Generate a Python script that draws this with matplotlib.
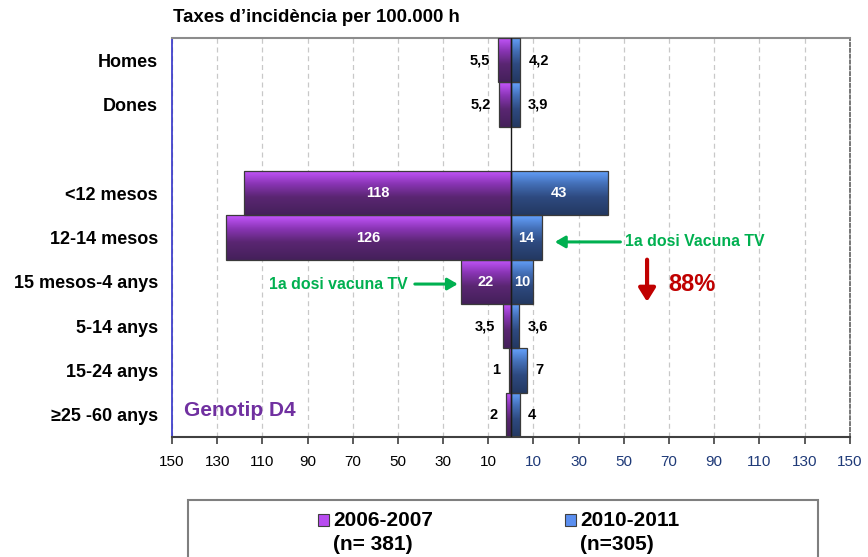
import numpy as np
import matplotlib
matplotlib.use("Agg")
import matplotlib.pyplot as plt
from matplotlib.colors import LinearSegmentedColormap
from matplotlib.patches import Rectangle

plt.rcParams['font.family'] = ['Liberation Sans', 'DejaVu Sans']

# ---------------- data ----------------
categories = ["Homes", "Dones", "", "<12 mesos", "12-14 mesos", "15 mesos-4 anys",
              "5-14 anys", "15-24 anys", "\u226525 -60 anys"]
rates_2006_2007 = [5.5, 5.2, np.nan, 118, 126, 22, 3.5, 1, 2]
rates_2010_2011 = [4.2, 3.9, np.nan, 43, 14, 10, 3.6, 7, 4]
series_names = ["2006-2007", "2010-2011"]
series_n = ["(n= 381)", "(n=305)"]
tick_values = [-150, -130, -110, -90, -70, -50, -30, -10, 10, 30, 50, 70, 90, 110, 130, 150]
title = "Taxes d\u2019incid\u00e8ncia per 100.000 h"
genotype = "Genotip D4"
vaccine_note_right = "1a dosi Vacuna TV"
vaccine_note_left = "1a dosi vacuna TV"
reduction = "88%"

purple_cmap = LinearSegmentedColormap.from_list(
    "pur", [(0, "#C657FF"), (0.3, "#8A35B5"), (0.6, "#5A2672"), (1, "#44205A")])
blue_cmap = LinearSegmentedColormap.from_list(
    "blu", [(0, "#66A3FF"), (0.3, "#4470B8"), (0.6, "#2E4A80"), (1, "#233861")])

fig = plt.figure(figsize=(8.68, 5.57), dpi=100)
ax = fig.add_axes([172 / 868, 1 - 437 / 557, (849.7 - 172) / 868, (437 - 38) / 557])

y = np.arange(len(categories))
left_vals = -np.array(rates_2006_2007, dtype=float)
right_vals = np.array(rates_2010_2011, dtype=float)

grad = np.linspace(0, 1, 256).reshape(-1, 1)


def gradient_bars(bars, cmap):
    for rect in bars:
        w = rect.get_width()
        if not np.isfinite(w) or w == 0:
            continue
        x0 = rect.get_x()
        y0 = rect.get_y()
        h = rect.get_height()
        im = ax.imshow(grad, extent=(min(x0, x0 + w), max(x0, x0 + w), y0 + h, y0),
                       origin="upper", aspect="auto", cmap=cmap, zorder=2,
                       interpolation="bilinear")
        im.set_clip_path(rect)


bars_l = ax.barh(y, left_vals, height=1.0, facecolor="none", edgecolor="#3A3A3A",
                 linewidth=0.9, zorder=3)
bars_r = ax.barh(y, right_vals, height=1.0, facecolor="none", edgecolor="#3A3A3A",
                 linewidth=0.9, zorder=3)
gradient_bars(bars_l, purple_cmap)
gradient_bars(bars_r, blue_cmap)

ax.set_xlim(-150, 150)
ax.set_ylim(len(categories) - 0.5, -0.5)

# grid & center line
for t in tick_values:
    ax.axvline(t, color="#C8C8C8", lw=0.9, ls=(0, (4, 3)), zorder=1)
ax.axvline(0, color="#1A1A1A", lw=1.0, zorder=4)


def fmt(v):
    return f"{v:g}".replace(".", ",")


# value labels
for yi, v in zip(y, rates_2006_2007):
    if not np.isfinite(v):
        continue
    if v >= 10:
        ax.text(-v / 2, yi, fmt(v), ha="center", va="center", color="white",
                fontsize=10.5, fontweight="bold", zorder=5)
    else:
        ax.annotate(fmt(v), (-v, yi), xytext=(-6, 0), textcoords="offset points",
                    ha="right", va="center", fontsize=10.5, fontweight="bold", zorder=5)
for yi, v in zip(y, rates_2010_2011):
    if not np.isfinite(v):
        continue
    if v >= 10:
        ax.text(v / 2, yi, fmt(v), ha="center", va="center", color="white",
                fontsize=10.5, fontweight="bold", zorder=5)
    else:
        ax.annotate(fmt(v), (v, yi), xytext=(6, 0), textcoords="offset points",
                    ha="left", va="center", fontsize=10.5, fontweight="bold", zorder=5)

# ticks
ax.set_xticks(tick_values)
ax.set_xticklabels([str(abs(t)) for t in tick_values], fontsize=11)
for t, lab in zip(tick_values, ax.get_xticklabels()):
    lab.set_color("black" if t < 0 else "#1F3A78")
ax.tick_params(axis="x", direction="out", length=5, width=1.2, color="#404040", pad=8)
ax.set_yticks(y)
ax.set_yticklabels(categories, fontsize=13, fontweight="bold")
ax.tick_params(axis="y", length=0, pad=10)

# spines
ax.spines["left"].set_color("#3232C8")
ax.spines["left"].set_linewidth(1.2)
ax.spines["top"].set_color("#8C8C8C")
ax.spines["top"].set_linewidth(1.5)
ax.spines["bottom"].set_color("#404040")
ax.spines["bottom"].set_linewidth(1.5)
ax.spines["right"].set_color("#606060")
ax.spines["right"].set_linewidth(1.2)
ax.spines["right"].set_linestyle((0, (2, 1.5)))

# annotations
green = "#00B050"
row_1214 = categories.index("12-14 mesos")
row_15m4 = categories.index("15 mesos-4 anys")
ax.annotate("", xy=(19.5, row_1214 + 0.1), xytext=(48.5, row_1214 + 0.1),
            arrowprops=dict(arrowstyle="-|>,head_length=0.6,head_width=0.35", color=green,
                            lw=2.2, shrinkA=0, shrinkB=0), zorder=6)
ax.text(50.5, row_1214 + 0.1, vaccine_note_right, color=green, fontsize=11.4,
        fontweight="bold", ha="left", va="center")
ax.annotate("", xy=(-23.5, row_15m4 + 0.05), xytext=(-42.5, row_15m4 + 0.05),
            arrowprops=dict(arrowstyle="-|>,head_length=0.6,head_width=0.35", color=green,
                            lw=2.2, shrinkA=0, shrinkB=0), zorder=6)
ax.text(-45.5, row_15m4 + 0.05, vaccine_note_left, color=green, fontsize=11.4,
        fontweight="bold", ha="right", va="center")

red = "#C00000"
ax.annotate("", xy=(60.3, row_15m4 + 0.45), xytext=(60.3, row_15m4 - 0.5),
            arrowprops=dict(arrowstyle="-|>,head_length=0.8,head_width=0.5", color=red,
                            lw=3, shrinkA=0, shrinkB=0), zorder=6)
ax.text(69.5, row_15m4 + 0.05, reduction, color=red, fontsize=17, fontweight="bold",
        ha="left", va="center")

ax.text(-144.5, len(categories) - 1.1, genotype, color="#7030A0", fontsize=15,
        fontweight="bold", ha="left", va="center")

# title
fig.text(173 / 868, 1 - 18 / 557, title, fontsize=13.4, fontweight="bold",
         ha="left", va="center")

# legend box (manual)
fig.patches.append(Rectangle((188 / 868, -0.02), (818 - 188) / 868, 0.02 + 57 / 557,
                             transform=fig.transFigure, facecolor="white",
                             edgecolor="#7F7F7F", lw=1.5))
leg_colors = ["#B84CF0", "#5B8FF0"]
handle_x = [318 / 868, 565 / 868]
for hx, name, n, c in zip(handle_x, series_names, series_n, leg_colors):
    fig.patches.append(Rectangle((hx, 1 - 526 / 557), 11 / 868, 12 / 557,
                                 transform=fig.transFigure, facecolor=c,
                                 edgecolor="#404040", lw=0.8))
    fig.text(hx + 15 / 868, 1 - 520 / 557, name, fontsize=15, fontweight="bold",
             family=["Liberation Sans Narrow", "Liberation Sans"], ha="left", va="center")
    fig.text(hx + 15 / 868, 1 - 545 / 557, n, fontsize=15, fontweight="bold",
             family=["Liberation Sans Narrow", "Liberation Sans"], ha="left", va="center")

fig.savefig("out.png", dpi=100)
